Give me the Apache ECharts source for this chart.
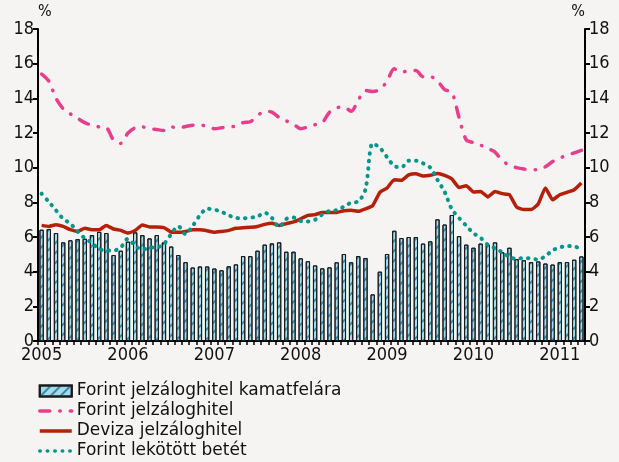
<!DOCTYPE html>
<html>
<head>
<meta charset="utf-8">
<script src="https://cdn.jsdelivr.net/npm/echarts@6/dist/echarts.min.js"></script>
<style>
  html, body { margin: 0; padding: 0; background: #f5f4f2; }
  #chart { width: 619px; height: 462px; }
</style>
</head>
<body>
<div id="chart"></div>
<script>
// months Jan 2005 .. Apr 2011
const years = ['2005', '2006', '2007', '2008', '2009', '2010', '2011']
const months = []
years.forEach(y => {
  for (let m = 1; m <= 12; m++) {
    if (y === '2011' && m > 4) break
    months.push(y + '-' + (m < 10 ? '0' + m : m))
  }
})

// Forint jelzáloghitel kamatfelára (bars)
const spread = [
  6.42, 6.46, 6.23, 5.69, 5.81, 5.88, 5.9, 6.11, 6.3, 6.23, 4.96, 5.21,
  5.73, 6.27, 6.11, 5.92, 6.11, 5.69, 5.45, 4.96, 4.55, 4.24, 4.3, 4.3,
  4.18, 4.08, 4.31, 4.42, 4.9, 4.9, 5.21, 5.56, 5.63, 5.69, 5.15, 5.15,
  4.77, 4.6, 4.36, 4.19, 4.25, 4.54, 5.02, 4.54, 4.9, 4.79, 2.69, 4.0,
  5.02, 6.36, 5.94, 6.0, 6.0, 5.62, 5.75, 7.02, 6.72, 7.27, 6.05, 5.56,
  5.38, 5.62, 5.56, 5.69, 5.12, 5.38, 4.72, 4.66, 4.55, 4.59, 4.47, 4.41,
  4.55, 4.55, 4.69, 4.88
]

// Forint jelzáloghitel
const forintMortgage = [
  15.4, 15.0, 14.0, 13.4, 13.1, 12.85, 12.6, 12.45, 12.35, 12.3, 11.6, 11.4,
  12.0, 12.3, 12.35, 12.25, 12.2, 12.15, 12.35, 12.3, 12.37, 12.45, 12.46, 12.38,
  12.25, 12.3, 12.35, 12.4, 12.6, 12.65, 13.0, 13.25, 13.2, 12.9, 12.7, 12.5,
  12.25, 12.35, 12.48, 12.6, 13.2, 13.45, 13.5, 13.25, 13.9, 14.45, 14.4, 14.5,
  15.0, 15.7, 15.5, 15.6, 15.6, 15.25, 15.25, 15.0, 14.5, 14.35, 12.9, 11.6,
  11.45, 11.3, 11.1, 10.9, 10.4, 10.15, 10.0, 9.92, 9.9, 9.88, 10.05, 10.35,
  10.55, 10.72, 10.85, 11.0
]

// Deviza jelzáloghitel
const fxMortgage = [
  6.67, 6.61, 6.71, 6.61, 6.42, 6.32, 6.5, 6.42, 6.42, 6.67, 6.46, 6.38,
  6.23, 6.38, 6.69, 6.58, 6.58, 6.54, 6.29, 6.27, 6.32, 6.42, 6.42, 6.36,
  6.27, 6.32, 6.38, 6.5, 6.54, 6.56, 6.61, 6.73, 6.79, 6.67, 6.77, 6.87,
  7.05, 7.25, 7.29, 7.42, 7.42, 7.42, 7.52, 7.54, 7.48, 7.62, 7.81, 8.58,
  8.83, 9.31, 9.27, 9.58, 9.65, 9.52, 9.56, 9.67, 9.56, 9.35, 8.86, 8.96,
  8.6, 8.63, 8.31, 8.63, 8.5, 8.44, 7.73, 7.58, 7.58, 7.9, 8.83, 8.15,
  8.44, 8.58, 8.73, 9.12
]

// Forint lekötött betét
const forintDeposit = [
  8.5, 8.03, 7.54, 7.05, 6.77, 6.32, 5.93, 5.65, 5.31, 5.22, 5.22, 5.4,
  5.9, 5.5, 5.27, 5.38, 5.4, 5.6, 6.17, 6.62, 6.17, 6.65, 7.25, 7.63,
  7.58, 7.45, 7.25, 7.1, 7.08, 7.12, 7.18, 7.4, 7.1, 6.58, 7.04, 7.12,
  6.92, 6.9, 7.0, 7.3, 7.5, 7.55, 7.75, 7.98, 8.05, 8.75, 11.4, 11.15,
  10.6, 10.1, 10.02, 10.4, 10.4, 10.25, 10.0, 9.3, 8.6, 7.6, 7.1, 6.65,
  6.22, 5.95, 5.55, 5.35, 5.12, 4.85, 4.73, 4.8, 4.75, 4.7, 4.9, 5.23,
  5.4, 5.48, 5.45, 5.32
]

const font = "'DejaVu Sans Condensed', 'DejaVu Sans', sans-serif"

const yAxisBase = {
  type: 'value',
  min: 0,
  max: 18,
  interval: 2,
  name: '%',
  nameLocation: 'end',
  nameGap: 4,
  splitLine: {show: false},
  axisLine: {show: true, lineStyle: {color: '#000', width: 2}},
  axisTick: {show: true, length: 5, lineStyle: {color: '#000', width: 2}},
  axisLabel: {color: '#111', fontSize: 18, fontFamily: font, margin: 4}
}

const noSymbol = {opacity: 0}

const chart = echarts.init(document.getElementById('chart'))
chart.setOption({
  backgroundColor: '#f5f4f2',
  animation: false,
  grid: {left: 38, right: 34, top: 29, bottom: 121},
  legend: {
    orient: 'vertical',
    left: 38,
    top: 382,
    padding: 0,
    itemWidth: 32,
    itemHeight: 11,
    itemGap: 2,
    lineStyle: {width: 3.5},
    textStyle: {fontFamily: "'DejaVu Sans', sans-serif", fontSize: 17, color: '#111', lineHeight: 18},
    data: [
      {name: 'Forint jelzáloghitel kamatfelára', icon: 'rect'},
      {name: 'Forint jelzáloghitel', itemStyle: noSymbol},
      {name: 'Deviza jelzáloghitel', itemStyle: noSymbol},
      {name: 'Forint lekötött betét', itemStyle: noSymbol}
    ]
  },
  xAxis: {
    type: 'category',
    data: months,
    boundaryGap: true,
    axisLine: {lineStyle: {color: '#000', width: 2}},
    axisTick: {show: true, interval: 0, length: 4, lineStyle: {color: '#000', width: 1.5}},
    axisLabel: {
      interval: (idx) => idx % 12 === 0,
      formatter: (v) => v.slice(0, 4),
      color: '#111',
      fontSize: 18,
      fontFamily: font,
      margin: 5
    }
  },
  yAxis: [
    Object.assign({}, yAxisBase, {
      position: 'left',
      nameTextStyle: {align: 'left', fontSize: 16, fontFamily: font, color: '#111'}
    }),
    Object.assign({}, yAxisBase, {
      position: 'right',
      nameTextStyle: {align: 'right', fontSize: 16, fontFamily: font, color: '#111'}
    })
  ],
  series: [
    {
      name: 'Forint jelzáloghitel kamatfelára',
      type: 'bar',
      data: spread,
      barWidth: '60%',
      itemStyle: {
        color: '#a3dbe9',
        borderColor: '#1a1a1a',
        borderWidth: 1,
        decal: {
          symbol: 'rect',
          dashArrayX: [1, 0],
          dashArrayY: [2, 5],
          rotation: -Math.PI / 4,
          color: 'rgba(20, 110, 150, 0.75)'
        }
      }
    },
    {
      name: 'Forint jelzáloghitel',
      type: 'line',
      data: forintMortgage,
      symbol: 'none',
      smooth: 0.3,
      itemStyle: {color: '#e83e8c'},
      lineStyle: {color: '#e83e8c', width: 3.5, type: [10, 10, 0.5, 10], cap: 'round'}
    },
    {
      name: 'Deviza jelzáloghitel',
      type: 'line',
      data: fxMortgage,
      symbol: 'none',
      smooth: 0.15,
      itemStyle: {color: '#b52108'},
      lineStyle: {color: '#b52108', width: 3.5}
    },
    {
      name: 'Forint lekötött betét',
      type: 'line',
      data: forintDeposit,
      symbol: 'none',
      smooth: 0.3,
      itemStyle: {color: '#00968a'},
      lineStyle: {color: '#00968a', width: 4, type: [0.5, 7], cap: 'round'}
    }
  ]
})
</script>
</body>
</html>
